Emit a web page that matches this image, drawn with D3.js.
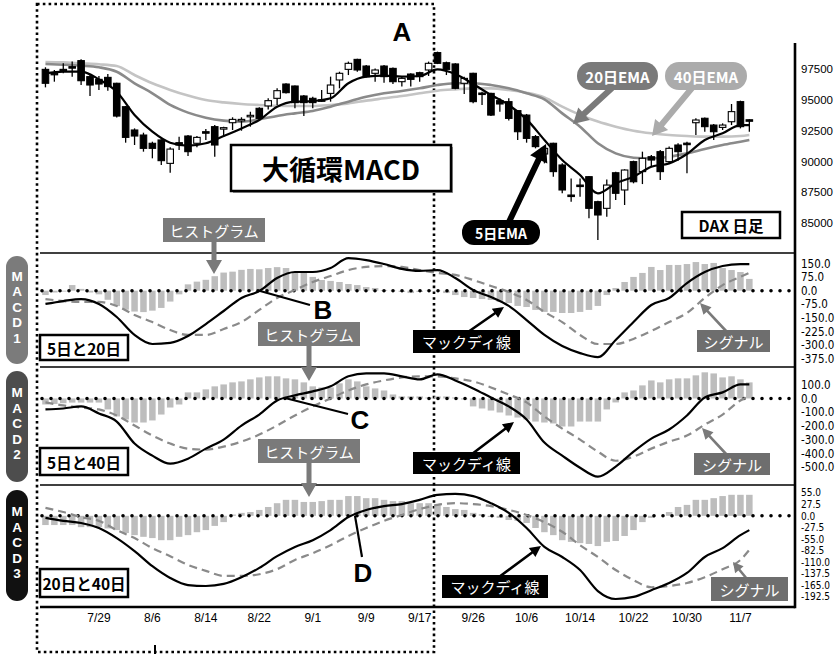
<!DOCTYPE html>
<html>
<head>
<meta charset="utf-8">
<script src="https://cdn.jsdelivr.net/npm/d3@7"></script>
<style>
  body { margin: 0; background: #fff; }
  svg { display: block; }
  text { font-family: "Noto Sans CJK JP", "Liberation Sans", sans-serif; }
  text.latin { font-family: "Liberation Sans", Arial, sans-serif; }
  .num text { font-family: "Liberation Sans Narrow", "DejaVu Sans Condensed", "Liberation Sans", sans-serif; font-size: 11.5px; fill: #000; }
  .date text { font-family: "Liberation Sans", sans-serif; font-size: 12px; fill: #000; }
  .num path, .date path { display: none; }
</style>
</head>
<body>
<div id="chart"></div>
<script>
// ===== data =====
var dateLabels = ['7/29', '8/6', '8/14', '8/22', '9/1', '9/9', '9/17', '9/26', '10/6', '10/14', '10/22', '10/30', '11/7'];
var dateIdx = [6, 12, 18, 24, 30, 36, 42, 48, 54, 60, 66, 72, 78];

var open = [97470,97150,97470,97690,98180,96880,96660,96820,96340,94440, 92550,92140,91470,91740,89840,91520,92060,91470,92410,92820,
            92680,93140,93360,93680,94310,94500,95120,96280,96120,95310, 95120,95000,95520,96610,97470,98280,97740,97150,97740,97550,
            96470,97090,97200,97420,98830,98010,97910,96340,97150,95550, 95520,94930,94850,94120,93760,92010,90600,91470,89710,87270,
            88080,88760,86730,86190,89080,87680,89980,89170,90380,90790, 89980,91330,91480,93140,93500,92950,92760,93220,94850,93380];
var high = [97640,97420,97960,98100,98290,97010,96930,97090,96390,94500, 92680,92330,91600,91790,91140,92010,92140,92060,92630,92950,
            92820,93580,93580,94030,94390,95120,95930,96340,96170,95390, 95250,95800,96880,97280,98100,98340,97820,97550,97820,97630,
            96880,97150,97280,98100,98910,98100,97960,96880,97200,95660, 95580,95120,95120,94170,93850,92140,91250,91520,89840,88620,
            88620,88810,86810,88540,89170,89360,90060,90790,90520,90920, 91200,91470,91600,93500,93570,93030,93090,94660,94930,93420];
var low  = [96010,96470,97150,96880,96200,95310,95800,95740,93570,91520, 91330,90790,90250,89710,89080,90920,90440,91140,91740,90380,
            92010,92550,92490,92820,93300,94220,94580,95520,94310,93680, 94310,94850,94850,95930,97010,97280,96820,96470,96390,96280,
            96070,96070,96470,96930,97900,97010,95850,95470,94710,94580, 93680,94040,93310,91740,91520,91060,89840,88760,87410,86730,
            87140,85380,83620,85510,86870,86460,88220,88160,89620,88490, 89840,90060,89030,92140,92410,91740,92550,92950,92680,92410];
var close = [96340,97040,97420,97630,96550,96200,96280,96070,93680,91950, 92060,91060,91060,90060,91000,91330,90790,91950,92360,91330,
            92740,93410,93410,93740,93490,94930,95740,95580,94770,94770, 94770,94960,96200,97150,97960,97420,96880,97420,96880,96470,
            96740,96660,96880,97960,97960,97470,95930,96740,94850,95520, 93760,94660,93490,92410,91870,91200,91060,89170,87680,87220,
            88050,86190,85650,88080,87410,89300,88350,90250,90110,89170, 91060,90790,91440,93360,92820,92410,92950,94040,92820,93330];

// lines are read every second day (plus the last day)
var lineIdx = d3.range(0, 80, 2).concat([79]);
var ema5  = [97150,97280,97280,96660,95660,93770,92410,91520,91280,91470, 92060,92680,93360,94440,94850,94900,95120,96340,96880,96960,
             96880,96930,97470,97090,96280,95390,94580,93410,91740,90110, 88900,87410,88220,88760,89570,89840,90600,91740,92280,92950,92950];
var ema20 = [97910,97850,97770,97640,97280,96340,95530,94580,93960,93550, 93310,93230,93410,93690,93900,94090,94440,94850,95250,95530,
             95710,95930,96200,96340,96340,96200,95930,95530,95040,93900, 92820,91470,90650,90300,90250,90380,90650,91010,91330,91600,91740];
var ema40 = [98070,98040,97960,97880,97740,97010,96340,95800,95340,94980, 94790,94660,94580,94520,94500,94500,94580,94710,94930,95120,
             95310,95530,95740,95850,95930,95930,95800,95580,95200,94440, 93770,93230,92820,92490,92280,92140,92060,92010,92010,92060,92140];

// MACD1 (5日と20日)
var macd1 = [-73,-57,-46,-73,-145,-244,-294,-288,-250,-184, -112,-40,-2,70,103,103,125,180,169,147,
             120,109,114,70,4,-35,-84,-162,-244,-305, -344,-366,-272,-173,-79,-40,42,103,136,147,147];
var signal1 = [-46,-57,-62,-62,-84,-134,-173,-217,-244,-244, -211,-173,-106,-40,4,48,81,114,131,136,
               131,114,98,87,59,26,-7,-51,-117,-173, -244,-294,-294,-266,-222,-173,-123,-40,31,76,98];
var hist1 = [-24,-10,-5,31,10,-10,-20,-50,-85,-105, -115,-118,-110,-95,-60,-20,35,50,60,80,
             100,105,115,120,118,125,130,125,98,98, 76,59,54,48,37,31,20,15,4,-2,
             -7,-13,-7,-2,-2,-13,-24,-35,-40,-46, -51,-62,-68,-84,-90,-106,-117,-117,-123,-123,
             -117,-106,-84,-24,15,48,76,98,131,114, 142,142,147,158,147,153,125,114,103,65];

// MACD2 (5日と40日)
var macd2 = [-80,-73,-58,-109,-168,-328,-416,-474,-438,-365, -299,-197,-117,-15,22,51,88,161,182,182,
             161,139,175,131,73,7,-58,-153,-321,-416, -504,-569,-496,-387,-292,-226,-124,7,44,102,102];
var signal2 = [-29,-51,-66,-80,-124,-197,-270,-328,-365,-372, -350,-314,-263,-197,-124,-58,0,58,102,131,
               153,161,161,146,124,80,29,-29,-131,-219, -299,-387,-453,-423,-365,-314,-270,-190,-117,-15,15];
var hist2 = [-44,-40,-35,-30,-30,-30,-30,-80,-131,-153, -175,-175,-160,-117,-66,-44,44,44,66,88,
             102,117,124,139,153,161,161,146,139,117, 88,80,80,110,139,124,88,73,58,29,
             15,15,15,7,15,15,7,-7,-58,-73, -88,-102,-124,-139,-153,-168,-175,-182,-204,-204,
             -168,-168,-168,-80,-29,44,58,95,131,117, 139,146,146,168,190,182,153,161,139,117];

// MACD3 (20日と40日)
var macd3 = [-5,-12,-17,-29,-53,-84,-120,-148,-165,-167, -162,-146,-124,-96,-74,-58,-34,-3,14,23,
             28,38,50,52,47,30,7,-29,-74,-98, -129,-179,-198,-193,-177,-160,-136,-98,-77,-46,-34];
var signal3 = [19,9,-3,-12,-34,-53,-77,-96,-117,-131, -143,-143,-139,-127,-105,-89,-70,-48,-29,-12,
               2,16,26,30,28,23,14,2,-15,-38, -70,-98,-129,-153,-170,-167,-160,-146,-127,-105,-81];
var hist3 = [-22,-22,-22,-22,-27,-27,-27,-30,-34,-41, -46,-50,-53,-58,-58,-50,-46,-39,-34,-24,
             -15,3,7,9,14,21,30,38,38,33, 33,35,38,38,47,47,42,42,38,35,
             35,30,30,30,26,21,16,14,7,4, -3,-5,-10,-12,-17,-29,-39,-46,-58,-62,
             -65,-67,-72,-62,-60,-48,-34,-15,-5,0, 9,21,26,38,38,42,47,50,50,50];

var priceTicks = [97500, 95000, 92500, 90000, 87500, 85000];
var ticks1 = [150, 75, 0, -75, -150, -225, -300, -375];
var ticks2 = [100, 0, -100, -200, -300, -400, -500];
var ticks3 = [55, 27.5, 0, -27.5, -55, -82.5, -110, -137.5, -165, -192.5];

// ===== layout =====
var width = 840, height = 654;
var left = 40, right = 795;
var svg = d3.select('#chart').append('svg')
    .attr('width', width)
    .attr('height', height);

var x = d3.scaleBand().domain(d3.range(open.length)).range([39.8, 755]).padding(0.27);
function cx(i) { return x(i) + x.bandwidth() / 2; }

var yP = d3.scaleLinear().domain([97500, 85000]).range([69, 223]);
var y1 = d3.scaleLinear().domain([150, -375]).range([263.5, 358.7]);
var y2 = d3.scaleLinear().domain([100, -500]).range([384.7, 467.2]);
var y3 = d3.scaleLinear().domain([55, -192.5]).range([492.7, 596.7]);

// dotted frame "A"
svg.append('rect')
    .attr('x', 37).attr('y', 4).attr('width', 397).attr('height', 648)
    .attr('fill', 'none').attr('stroke', '#000').attr('stroke-width', 2.6)
    .attr('stroke-dasharray', '2.6,3.2');
svg.append('line').attr('x1', 155).attr('x2', 155).attr('y1', 645).attr('y2', 654)
    .attr('stroke', '#000').attr('stroke-width', 2);

// ===== price panel =====
function lineOf(scale, values) {
    return d3.line()
        .x(function(d, i) { return cx(lineIdx[i]); })
        .y(function(d) { return scale(d); })
        .curve(d3.curveMonotoneX)(values);
}

svg.append('path').attr('d', lineOf(yP, ema40)).attr('fill', 'none')
    .attr('stroke', '#c4c4c4').attr('stroke-width', 2.6);
svg.append('path').attr('d', lineOf(yP, ema20)).attr('fill', 'none')
    .attr('stroke', '#8a8a8a').attr('stroke-width', 2.6);

var candles = svg.append('g').selectAll('g')
    .data(open)
    .enter()
    .append('g');
candles.append('line')
    .attr('x1', function(d, i) { return cx(i); })
    .attr('x2', function(d, i) { return cx(i); })
    .attr('y1', function(d, i) { return yP(high[i]); })
    .attr('y2', function(d, i) { return yP(low[i]); })
    .attr('stroke', '#000').attr('stroke-width', 1.3);
candles.append('rect')
    .attr('x', function(d, i) { return x(i); })
    .attr('y', function(d, i) { return yP(Math.max(open[i], close[i])); })
    .attr('width', x.bandwidth())
    .attr('height', function(d, i) {
        return Math.max(1.5, Math.abs(yP(open[i]) - yP(close[i])));
    })
    .attr('fill', function(d, i) { return close[i] >= open[i] ? '#fff' : '#000'; })
    .attr('stroke', '#000').attr('stroke-width', 1.1);

svg.append('path').attr('d', lineOf(yP, ema5)).attr('fill', 'none')
    .attr('stroke', '#000').attr('stroke-width', 2.2);

// ===== MACD panels =====
var panels = [
    { y: y1, macd: macd1, signal: signal1, hist: hist1, ticks: ticks1, fs: 11.5 },
    { y: y2, macd: macd2, signal: signal2, hist: hist2, ticks: ticks2, fs: 11.5 },
    { y: y3, macd: macd3, signal: signal3, hist: hist3, ticks: ticks3, fs: 10 }
];

panels.forEach(function(p) {
    var g = svg.append('g');
    g.selectAll('rect')
        .data(p.hist)
        .enter()
        .append('rect')
        .attr('x', function(d, i) { return x(i); })
        .attr('y', function(d) { return p.y(Math.max(0, d)); })
        .attr('width', x.bandwidth())
        .attr('height', function(d) { return Math.abs(p.y(d) - p.y(0)); })
        .attr('fill', '#bdbdbd');

    g.append('line')
        .attr('x1', left + 2).attr('x2', right)
        .attr('y1', p.y(0)).attr('y2', p.y(0))
        .attr('stroke', '#000').attr('stroke-width', 3.6)
        .attr('stroke-linecap', 'round').attr('stroke-dasharray', '0,9');

    g.append('path').attr('d', lineOf(p.y, p.signal)).attr('fill', 'none')
        .attr('stroke', '#8a8a8a').attr('stroke-width', 2.2).attr('stroke-dasharray', '8,5');
    g.append('path').attr('d', lineOf(p.y, p.macd)).attr('fill', 'none')
        .attr('stroke', '#000').attr('stroke-width', 2.2);

    g.append('g')
        .attr('class', 'num')
        .attr('transform', 'translate(' + right + ',0)')
        .call(d3.axisRight(p.y).tickValues(p.ticks).tickSize(0).tickPadding(6)
            .tickFormat(function(d) { return d.toFixed(1); }))
        .selectAll('text').style('font-size', p.fs + 'px');
});

// price axis
svg.append('g')
    .attr('class', 'num')
    .attr('transform', 'translate(' + right + ',0)')
    .call(d3.axisRight(yP).tickValues(priceTicks).tickSize(0).tickPadding(6)
        .tickFormat(function(d) { return String(d); }))
    .selectAll('text').style('font-family', '"Liberation Sans", sans-serif').style('font-size', '11.5px');

// date axis
svg.append('g')
    .attr('class', 'date')
    .attr('transform', 'translate(0,607)')
    .call(d3.axisBottom(x).tickValues(dateIdx).tickSize(0).tickPadding(6)
        .tickFormat(function(d, i) { return dateLabels[i]; }));

// frame lines
[253, 367, 485].forEach(function(yy) {
    svg.append('line').attr('x1', left).attr('x2', right).attr('y1', yy).attr('y2', yy)
        .attr('stroke', '#000').attr('stroke-width', 1.4);
});
svg.append('line').attr('x1', left).attr('x2', right).attr('y1', 607).attr('y2', 607)
    .attr('stroke', '#000').attr('stroke-width', 2.4);
svg.append('line').attr('x1', right).attr('x2', right).attr('y1', 43).attr('y2', 608.2)
    .attr('stroke', '#000').attr('stroke-width', 2.6);

// ===== annotations =====
function arrow(x1, y1_, x2, y2_, w, hl, hw, color) {
    var dx = x2 - x1, dy = y2_ - y1_, len = Math.sqrt(dx * dx + dy * dy);
    var ux = dx / len, uy = dy / len, px = -uy, py = ux;
    var bx = x2 - ux * hl, by = y2_ - uy * hl;
    var pts = [
        [x1 + px * w / 2, y1_ + py * w / 2], [bx + px * w / 2, by + py * w / 2],
        [bx + px * hw / 2, by + py * hw / 2], [x2, y2_],
        [bx - px * hw / 2, by - py * hw / 2], [bx - px * w / 2, by - py * w / 2],
        [x1 - px * w / 2, y1_ - py * w / 2]
    ];
    svg.append('polygon').attr('points', pts.map(function(p) { return p.join(','); }).join(' '))
        .attr('fill', color);
}

function label(x0, y0, w, h, txt, opt) {
    svg.append('rect').attr('x', x0).attr('y', y0).attr('width', w).attr('height', h)
        .attr('rx', opt.rx || 0)
        .attr('fill', opt.fill || '#fff')
        .attr('stroke', opt.stroke || 'none').attr('stroke-width', opt.sw || 0);
    svg.append('text').attr('x', x0 + w / 2).attr('y', y0 + h / 2)
        .attr('text-anchor', 'middle').attr('dominant-baseline', 'central')
        .attr('font-size', opt.size || 15).attr('font-weight', opt.bold ? 'bold' : 'normal')
        .attr('fill', opt.color || '#000')
        .text(txt);
}

// side pills
var pills = [
    { y0: 256, y1: 364, fill: '#7b7b7b', n: '1' },
    { y0: 371, y1: 482, fill: '#4d4d4d', n: '2' },
    { y0: 490, y1: 601, fill: '#111', n: '3' }
];
pills.forEach(function(p) {
    svg.append('rect').attr('x', 6).attr('y', p.y0).attr('width', 22).attr('height', p.y1 - p.y0)
        .attr('rx', 11).attr('fill', p.fill);
    var chars = ['M', 'A', 'C', 'D', p.n];
    var mid = (p.y0 + p.y1) / 2 - 3;
    chars.forEach(function(c, k) {
        svg.append('text').attr('class', 'latin')
            .attr('x', 17).attr('y', mid + (k - 2) * 15.5)
            .attr('text-anchor', 'middle').attr('dominant-baseline', 'central')
            .attr('font-size', 13.5).attr('font-weight', 'bold').attr('fill', '#fff')
            .text(c);
    });
});

// title letter A
svg.append('text').attr('class', 'latin').attr('x', 402).attr('y', 32).attr('text-anchor', 'middle')
    .attr('dominant-baseline', 'central')
    .attr('font-size', 26).attr('font-weight', 'bold').text('A');

// 大循環MACD
svg.append('rect').attr('x', 233).attr('y', 147).attr('width', 220).attr('height', 46).attr('fill', '#9a9a9a');
label(231, 145, 220, 46, '大循環MACD', { stroke: '#000', sw: 2.5, size: 27, bold: true });

// DAX 日足
label(682, 212, 98, 26, 'DAX 日足', { stroke: '#000', sw: 2.5, size: 15.5, bold: true });

// EMA labels
arrow(612, 88, 573, 124, 6, 15, 17, '#7a7a7a');
label(577, 62, 81, 28, '20日EMA', { rx: 14, fill: '#7a7a7a', color: '#fff', size: 15, bold: true });
arrow(692, 88, 652, 136, 6, 15, 17, '#ababab');
label(665, 62, 82, 28, '40日EMA', { rx: 14, fill: '#ababab', color: '#fff', size: 15, bold: true });
arrow(508, 224, 546, 144, 6, 17, 19, '#000');
label(462, 220, 78, 25, '5日EMA', { rx: 12, fill: '#000', color: '#fff', size: 14, bold: true });

// histogram labels
[[163, 218, 274], [258, 322, 381], [258, 439, 497]].forEach(function(h) {
    arrow(h[0] + 51, h[1] + 20, h[0] + 51, h[2], 5, 14, 16, '#7a7a7a');
    label(h[0], h[1], 102, 24, 'ヒストグラム', { fill: '#7a7a7a', color: '#fff', size: 15 });
});

// MACD line labels
arrow(468, 332, 504, 307, 2.6, 11, 11, '#000');
label(413, 330, 107, 23, 'マックディ線', { fill: '#000', color: '#fff', size: 15 });
arrow(472, 454, 514, 422, 2.6, 11, 11, '#000');
label(413, 452, 107, 22, 'マックディ線', { fill: '#000', color: '#fff', size: 15 });
arrow(499, 577, 541, 546, 2.6, 11, 11, '#000');
label(442, 575, 106, 23, 'マックディ線', { fill: '#000', color: '#fff', size: 15 });

// signal labels
arrow(727, 332, 700, 303, 2.6, 11, 11, '#7a7a7a');
label(697, 330, 73, 22, 'シグナル', { fill: '#6e6e6e', color: '#fff', size: 15 });
arrow(727, 455, 702, 428, 2.6, 11, 11, '#7a7a7a');
label(694, 453, 76, 22, 'シグナル', { fill: '#6e6e6e', color: '#fff', size: 15 });
arrow(747, 579, 733, 562, 2.6, 10, 11, '#7a7a7a');
label(711, 577, 77, 24, 'シグナル', { fill: '#6e6e6e', color: '#fff', size: 15 });

// panel name boxes
label(40, 335, 88, 25, '5日と20日', { stroke: '#000', sw: 2.5, size: 15.5, bold: true });
label(40, 448, 88, 27, '5日と40日', { stroke: '#000', sw: 2.5, size: 15.5, bold: true });
label(40, 569, 88, 28, '20日と40日', { stroke: '#000', sw: 2.5, size: 15.5, bold: true });

// cross markers B, C, D
var marks = [
    { x1: cx(24), y1: y1(0), x2: 310, y2: 305, tx: 323, ty: 310, t: 'B' },
    { x1: 285, y1: 398, x2: 348, y2: 414, tx: 360, ty: 420, t: 'C' },
    { x1: 355, y1: y3(0), x2: 362, y2: 557, tx: 363, ty: 573, t: 'D' }
];
marks.forEach(function(m) {
    svg.append('line').attr('x1', m.x1).attr('y1', m.y1).attr('x2', m.x2).attr('y2', m.y2)
        .attr('stroke', '#000').attr('stroke-width', 2.2);
    svg.append('text').attr('class', 'latin').attr('x', m.tx).attr('y', m.ty).attr('text-anchor', 'middle')
        .attr('dominant-baseline', 'central')
        .attr('font-size', 26).attr('font-weight', 'bold').text(m.t);
});
</script>
</body>
</html>
